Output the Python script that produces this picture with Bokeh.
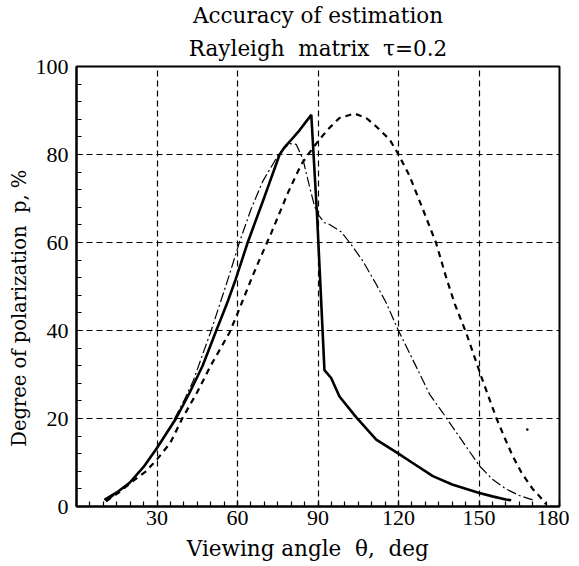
from bokeh.plotting import figure
from bokeh.models import FixedTicker, Title, Range1d
from bokeh.embed import file_html
from bokeh.resources import INLINE

# ---- data ----
solid_x = [10.4, 15, 19.8, 25, 30, 37.1, 42.1, 47, 52.1, 56, 59.3, 63.8, 70, 75.7,
           77.6, 79.4, 83.1, 87.5, 89.6, 90.8, 92.4, 94.9, 98, 104.2, 111.7, 120, 125,
           132.8, 140, 149.8, 155, 160, 162]
solid_y = [1.5, 3.2, 5.4, 9, 13.3, 20, 25.8, 32, 40, 46, 51.6, 60, 70.3, 80,
           81.7, 82.9, 85.5, 89, 66.7, 51.6, 31, 29.2, 25, 20.3, 15.2, 12, 10,
           6.9, 5, 3.1, 2.3, 1.6, 1.4]

dashdot_x = [11, 15, 20, 25, 30, 35, 40, 43.4, 50.2, 57, 60.7, 65, 69.4, 75.7, 79.4,
             81.9, 84.4, 86.8, 88.7, 90, 92.4, 94.3, 98.7, 102.4, 106.7, 111.7, 115.4,
             119.8, 124.1, 131.6, 136.5, 140, 145, 150.2, 155, 160, 165, 170]
dashdot_y = [1.2, 3, 5.6, 9, 13.5, 18.2, 24, 28.4, 40, 52.7, 60, 67.5, 73.9, 80.4, 82.5,
             82.3, 78.9, 72.8, 68.3, 66.4, 64.5, 64.1, 62.4, 59.5, 55.8, 50.5, 46.3,
             40.2, 34.9, 25.5, 21.3, 18.2, 13.8, 9.2, 6.2, 4, 2.5, 1.5]

dashed_x = [11, 16, 21, 25.9, 30, 35, 39.4, 45, 50, 57, 60.1, 65.7, 68.2, 72.6, 78.8,
            83.7, 86.8, 90, 93.7, 98, 103.6, 108, 112, 116.7, 120, 124, 128.4, 134,
            137.8, 141, 145.2, 150.8, 156.4, 160, 162.6, 166, 170, 172.6, 175]
dashed_y = [1.2, 3.3, 5.75, 8, 10.7, 14.5, 20, 26, 32, 39.5, 44, 52.5, 56.1, 62.2, 71.3,
            77.7, 80.4, 83, 85.7, 88.3, 89.3, 88.3, 86.2, 83.4, 80, 75.3, 68.6, 59.9,
            52, 46, 39.5, 29.6, 20.2, 15, 11.4, 7.5, 4, 2.3, 0.5]

stray_x = [167.6, 168.4]
stray_y = [17.6, 17.4]

x_ticks = [0, 30, 60, 90, 120, 150, 180]
y_ticks = [0, 20, 40, 60, 80, 100]
x_grid = [30, 60, 90, 120, 150]
y_grid = [20, 40, 60, 80]

NB = "\u00a0"
title_line1 = "Accuracy of estimation"
title_line2 = "Rayleigh" + NB + " matrix" + NB + " \u03c4=0.2"
x_label = "Viewing angle" + NB + " \u03b8," + NB + " deg" + NB * 3
y_label = "Degree of polarization" + NB + " p, %" + NB * 7

FONT = "DejaVu Serif"
TICK_FONT = "Liberation Serif"

p = figure(frame_width=483, frame_height=440, output_backend="svg", toolbar_location=None,
           x_range=Range1d(0, 180), y_range=Range1d(0, 100),
           min_border_left=10, min_border_right=10, min_border_top=59, min_border_bottom=51)
p.margin = (0, 0, 0, 4)
p.title = None
p.add_layout(Title(text=title_line2, align="center", text_font=FONT, standoff=12,
                   text_font_size="21.5px", text_font_style="normal", text_color="black"), "above")
p.add_layout(Title(text=title_line1, align="center", text_font=FONT, standoff=0,
                   text_font_size="21.5px", text_font_style="normal", text_color="black"), "above")

p.outline_line_color = "black"
p.outline_line_width = 2
p.outline_line_alpha = 1

for ax in (p.xaxis, p.yaxis):
    ax.axis_line_width = 2
    ax.axis_line_color = "black"
    ax.major_tick_in = 6
    ax.major_tick_out = 0
    ax.minor_tick_in = 5
    ax.minor_tick_out = 0
    ax.major_tick_line_width = 1.2
    ax.minor_tick_line_width = 1.2
    ax.major_label_text_font = TICK_FONT
    ax.major_label_text_font_size = "22px"
    ax.major_label_text_color = "black"
    ax.axis_label_text_font = FONT
    ax.axis_label_text_font_style = "normal"
    ax.axis_label_text_color = "black"

p.xaxis.axis_label_text_font_size = "21.5px"
p.yaxis.axis_label_text_font_size = "19.5px"
p.xaxis.ticker = FixedTicker(ticks=x_ticks, minor_ticks=list(range(0, 181, 5)))
p.yaxis.ticker = FixedTicker(ticks=y_ticks, minor_ticks=list(range(0, 101, 4)))
p.xaxis.major_label_overrides = {0: ""}
p.xaxis.axis_label = x_label
p.yaxis.axis_label = y_label
p.xaxis.major_label_standoff = 4
p.yaxis.major_label_standoff = 8
p.xaxis.axis_label_standoff = 8
p.yaxis.axis_label_standoff = 2

p.xgrid.ticker = FixedTicker(ticks=x_grid)
p.ygrid.ticker = FixedTicker(ticks=y_grid)
for g in (p.xgrid, p.ygrid):
    g.grid_line_color = "black"
    g.grid_line_dash = "6 4"
    g.grid_line_width = 1.2
    g.grid_line_alpha = 1

p.line(dashed_x, dashed_y, line_color="black", line_width=2.2, line_dash="6 5")
p.line(stray_x, stray_y, line_color="black", line_width=2.2)
p.line(dashdot_x, dashdot_y, line_color="black", line_width=1.2, line_dash="10 3 2 3")
p.line(solid_x, solid_y, line_color="black", line_width=2.6)

open("out.html", "w").write(file_html(p, INLINE))
